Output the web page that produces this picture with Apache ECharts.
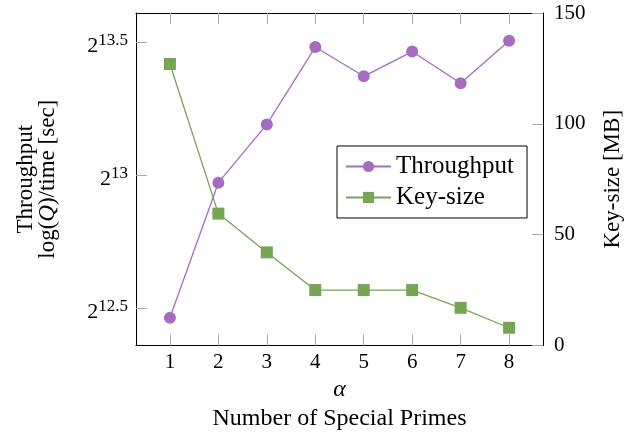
<!DOCTYPE html>
<html>
<head>
<meta charset="utf-8">
<script src="https://cdn.jsdelivr.net/npm/echarts@6/dist/echarts.min.js"></script>
<style>html,body{margin:0;padding:0;background:#fff}#c{width:632px;height:436px}</style>
</head>
<body>
<div id="c"></div>
<script>
// ---- data ----
const alphaValues = [1, 2, 3, 4, 5, 6, 7, 8];
// throughput shown on a log2 axis: stored as log2 exponents
const throughputLog2 = [12.463, 12.971, 13.190, 13.481, 13.371, 13.464, 13.345, 13.505];
const keySizeMB = [127, 59.5, 42, 25, 25, 25, 17, 8];
const leftTicks = [12.5, 13, 13.5];
const rightTicks = [0, 50, 100, 150];
const seriesNames = ['Throughput', 'Key-size'];

const FONT = 'Liberation Serif';
const PURPLE = '#a56dbf';
const GREEN = '#75a555';
const TICK = '#a8a8a8';

const chart = echarts.init(document.getElementById('c'), null, {renderer: 'canvas'});
const xCommon = {
  type: 'value', min: 0.3, max: 8.7,
  axisLine: {show: true, lineStyle: {color: '#000', width: 1}},
  splitLine: {show: false},
  axisTick: {show: true, inside: true, length: 11, lineStyle: {color: TICK, width: 1}, customValues: alphaValues}
};
const option = {
  animation: false,
  backgroundColor: '#fff',
  grid: {left: 136, top: 13, width: 408, height: 337, containLabel: false},
  legend: {
    orient: 'vertical', left: 337, top: 146,
    padding: [8, 13, 8, 8], itemGap: 6,
    itemWidth: 45, itemHeight: 14,
    borderColor: '#000', borderWidth: 1, backgroundColor: '#fff',
    textStyle: {fontFamily: FONT, fontSize: 25, color: '#000', lineHeight: 22},
    data: seriesNames
  },
  xAxis: [
    Object.assign({}, xCommon, {
      position: 'bottom',
      axisLabel: {show: true, margin: 6, fontFamily: FONT, fontSize: 21, color: '#000', customValues: alphaValues},
      name: '{a|α}\n{n|Number of Special Primes}',
      nameLocation: 'middle', nameGap: 30,
      nameTextStyle: {
        rich: {
          a: {fontFamily: FONT, fontSize: 24, fontStyle: 'italic', color: '#000', lineHeight: 29},
          n: {fontFamily: FONT, fontSize: 24, color: '#000', lineHeight: 29}
        }
      }
    }),
    Object.assign({}, xCommon, {position: 'top', axisLabel: {show: false}})
  ],
  yAxis: [
    {
      type: 'value', position: 'left', min: 12.359, max: 13.609,
      axisLine: {show: true, lineStyle: {color: '#000', width: 1}},
      splitLine: {show: false},
      axisTick: {show: true, inside: true, length: 11, lineStyle: {color: TICK}, customValues: leftTicks},
      axisLabel: {
        show: true, margin: 8, customValues: leftTicks,
        formatter: v => '{b|2}{s|' + v + '}',
        rich: {
          b: {fontFamily: FONT, fontSize: 22, color: '#000', lineHeight: 22, padding: [8, 0, 0, 0]},
          s: {fontFamily: FONT, fontSize: 17, color: '#000', lineHeight: 17, padding: [1, 0, 0, 0], verticalAlign: 'top'}
        }
      },
      name: '{t|Throughput}\n{t|log(}{q|Q}{t|)/time [sec]}',
      nameLocation: 'middle', nameGap: 77, nameRotate: 90,
      nameTextStyle: {
        rich: {
          t: {fontFamily: FONT, fontSize: 23, color: '#000', lineHeight: 22},
          q: {fontFamily: FONT, fontSize: 23, fontStyle: 'italic', color: '#000', lineHeight: 22}
        }
      }
    },
    {
      type: 'value', position: 'right', min: 0, max: 150, interval: 50,
      axisLine: {show: true, lineStyle: {color: '#000', width: 1}},
      splitLine: {show: false},
      axisTick: {show: true, inside: true, length: 11, lineStyle: {color: TICK}},
      axisLabel: {show: true, margin: 11, fontFamily: FONT, fontSize: 21, color: '#000'},
      name: 'Key-size [MB]',
      nameLocation: 'middle', nameGap: 58, nameRotate: 90,
      nameTextStyle: {fontFamily: FONT, fontSize: 23, color: '#000'}
    }
  ],
  series: [
    {
      name: seriesNames[0], type: 'line', xAxisIndex: 0, yAxisIndex: 0,
      data: alphaValues.map((a, i) => [a, throughputLog2[i]]),
      symbol: 'circle', symbolSize: 12,
      lineStyle: {color: PURPLE, width: 1.3},
      itemStyle: {color: PURPLE},
      z: 3
    },
    {
      name: seriesNames[1], type: 'line', xAxisIndex: 0, yAxisIndex: 1,
      data: alphaValues.map((a, i) => [a, keySizeMB[i]]),
      symbol: 'rect', symbolSize: 12,
      lineStyle: {color: GREEN, width: 1.3},
      itemStyle: {color: GREEN},
      z: 3
    }
  ]
};
chart.setOption(option);
</script>
</body>
</html>
